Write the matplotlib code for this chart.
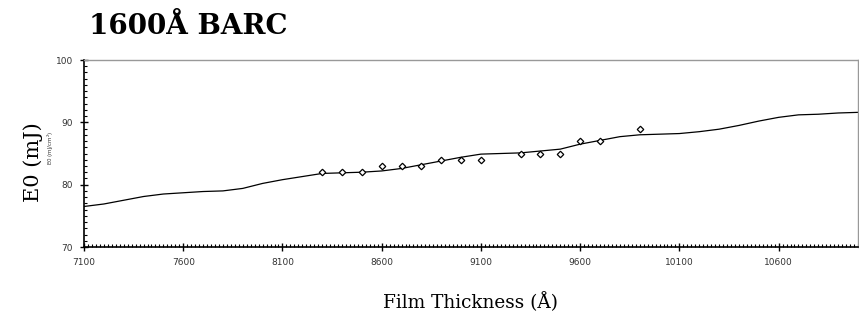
import matplotlib
matplotlib.use("Agg")
import matplotlib.pyplot as plt
from matplotlib.ticker import MultipleLocator, FixedLocator

# -------------------------
# data
# -------------------------
meas_thick = [8300, 8400, 8500, 8600, 8700, 8800, 8900, 9000, 9100,
              9300, 9400, 9500, 9600, 9700, 9900]
meas_e0 = [82, 82, 82, 83, 83, 83, 84, 84, 84, 85, 85, 85, 87, 87, 89]

fit_thick = [7100, 7200, 7300, 7400, 7500, 7600, 7700, 7800, 7900, 8000,
             8100, 8200, 8300, 8400, 8500, 8600, 8700, 8800, 8900, 9000,
             9100, 9200, 9300, 9400, 9500, 9600, 9700, 9800, 9900, 10000,
             10100, 10200, 10300, 10400, 10500, 10600, 10700, 10800, 10900, 11000]
fit_e0 = [76.5, 76.9, 77.5, 78.1, 78.5, 78.7, 78.9, 79.0, 79.4, 80.2,
          80.8, 81.3, 81.8, 81.9, 82.0, 82.2, 82.6, 83.2, 83.8, 84.4,
          84.9, 85.0, 85.1, 85.4, 85.7, 86.5, 87.1, 87.7, 88.0, 88.1,
          88.2, 88.5, 88.9, 89.5, 90.2, 90.8, 91.2, 91.3, 91.5, 91.6]

x_ticks = [7100, 7600, 8100, 8600, 9100, 9600, 10100, 10600]
y_ticks = [70, 80, 90, 100]

# -------------------------
# plot
# -------------------------
fig = plt.figure(figsize=(8.59, 3.21), dpi=100)
ax = fig.add_axes([84 / 859, 1 - 247 / 321, 774 / 859, 187 / 321])

ax.plot(fit_thick, fit_e0, color="black", lw=0.9)
ax.plot(meas_thick, meas_e0, ls="none", marker="D", ms=3.3,
        mfc="white", mec="black", mew=0.9)

ax.set_xlim(7100, 11000)
ax.set_ylim(70, 100)
ax.xaxis.set_major_locator(FixedLocator(x_ticks))
ax.yaxis.set_major_locator(FixedLocator(y_ticks))
ax.xaxis.set_minor_locator(MultipleLocator(20))
ax.yaxis.set_minor_locator(MultipleLocator(1))
ax.tick_params(which="major", direction="inout", length=6, width=1,
               labelsize=6.5, labelcolor="#333333", pad=5)
ax.tick_params(which="minor", direction="in", length=2.5, width=0.8)

for side in ("top", "right"):
    ax.spines[side].set_color("#999999")
    ax.spines[side].set_linewidth(1)
for side in ("left", "bottom"):
    ax.spines[side].set_linewidth(1.2)

fig.text(188 / 859, 1 - 27 / 321, "1600Å BARC", fontsize=20, fontweight="bold",
         family="DejaVu Serif", ha="center", va="center")
fig.text(470 / 859, 1 - 302 / 321, "Film Thickness (Å)", fontsize=13.3,
         family="DejaVu Serif", ha="center", va="center")
fig.text(33 / 859, 1 - 162 / 321, "E0 (mJ)", fontsize=15, family="DejaVu Serif",
         rotation=90, ha="center", va="center")
fig.text(51 / 859, 1 - 148 / 321, "E0 (mJ/cm$^2$)", fontsize=4, color="#333333",
         rotation=90, ha="center", va="center")

fig.savefig("out.png", dpi=100)
